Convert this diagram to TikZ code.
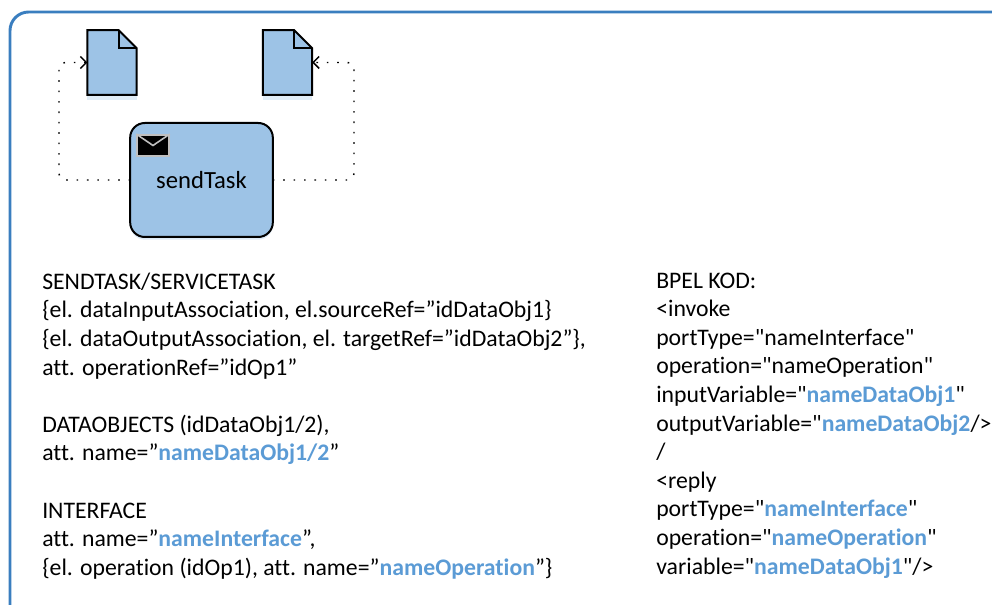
\documentclass[tikz,border=0pt]{standalone}
\usepackage{fontspec}
\setmainfont{Carlito}[Ligatures={TeXOff,NoCommon}]
\usetikzlibrary{calc,arrows.meta,shadows}
\definecolor{framecol}{HTML}{3A7EBF}
\definecolor{taskcol}{HTML}{9DC3E6}
\definecolor{namecol}{HTML}{5B9BD5}
\newcommand{\hl}[1]{\textcolor{namecol}{\textbf{#1}}}

\begin{document}
\begin{tikzpicture}[x=0.75pt, y=-0.75pt,
  shapeline/.style={draw=black, line width=1.5pt, line join=miter},
  task/.style={shapeline, fill=taskcol, rounded corners=11pt, minimum width=107pt, minimum height=85.5pt, outer sep=0pt,
    drop shadow={shadow xshift=0pt, shadow yshift=-2pt, fill=taskcol, opacity=0.35}},
  dataobj/.style={minimum width=37pt, minimum height=48.5pt, outer sep=0pt, inner sep=0pt},
  envelope/.style={draw=black!25, line width=1.2pt, fill=black, minimum width=24pt, minimum height=16pt, inner sep=0pt},
  assoc/.style={line width=1.1pt, dash pattern=on 1.2pt off 6.6pt, rounded corners=5pt, -{Straight Barb[length=4.5pt,width=9pt,line width=1.1pt]}},
  textblock/.style={anchor=north west, align=left, inner sep=0pt, font=\fontsize{17.8}{21.45}\selectfont}]

  \clip (0,0) rectangle (992,605);
  \useasboundingbox (0,0) rectangle (992,605);

  % Frame
  \draw[framecol, line width=2.2pt, rounded corners=14pt] (10,12) rectangle (1040,625);

  % Nodes
  \node[task] (task) at (201.5,180) {\fontsize{18.5}{22}\selectfont sendTask};
  \node[dataobj] (obj1) at (112,62.5) {};
  \node[dataobj] (obj2) at (287.5,62.5) {};
  \node[envelope] (mail) at (153,145.5) {};
  \draw[draw=black!25, line width=1.2pt] (mail.north west) -- (mail.center) -- (mail.north east);

  % Data objects
  \foreach \n in {obj1,obj2} {
    \fill[taskcol, opacity=0.3] ($(\n.south west)+(0,5)$) rectangle ($(\n.south east)+(0,0)$);
    \draw[shapeline, fill=taskcol] (\n.south west) -- (\n.north west) -- ($(\n.north east)+(-18,0)$)
      -- ($(\n.north east)+(0,18)$) -- (\n.south east) -- cycle;
    \draw[shapeline] ($(\n.north east)+(-18,0)$) |- ($(\n.north east)+(0,18)$);
  }

  % Associations
  \coordinate (bendL) at (59,180);
  \coordinate (bendR) at (354,180);
  \draw[assoc] (task.west) -- (bendL) -- (bendL |- obj1.west) -- (obj1.west);
  \draw[assoc] (task.east) -- (bendR) -- (bendR |- obj2.east) -- (obj2.east);

  % Text
  \node[textblock] (spec) at (42,272.5) {SENDTASK/SERVICETASK\\
    \{el. dataInputAssociation, el.sourceRef=”idDataObj1\}\\
    \{el. dataOutputAssociation, el. targetRef=”idDataObj2”\},\\
    att. operationRef=”idOp1”\\
    ~\\
    DATAOBJECTS (idDataObj1/2),\\
    att. name=”\hl{nameDataObj1/2}”\\
    ~\\
    INTERFACE\\
    att. name=”\hl{nameInterface}”,\\
    \{el. operation (idOp1), att. name=”\hl{nameOperation}”\}};
  \node[textblock] (bpel) at (656,272.5) {BPEL KOD:\\
    <invoke\\
    portType="nameInterface"\\
    operation="nameOperation"\\
    inputVariable="\hl{nameDataObj1}"\\
    outputVariable="\hl{nameDataObj2}/>\\
    /\\
    <reply\\
    portType="\hl{nameInterface}"\\
    operation="\hl{nameOperation}"\\
    variable="\hl{nameDataObj1}"/>};

\end{tikzpicture}
\end{document}
